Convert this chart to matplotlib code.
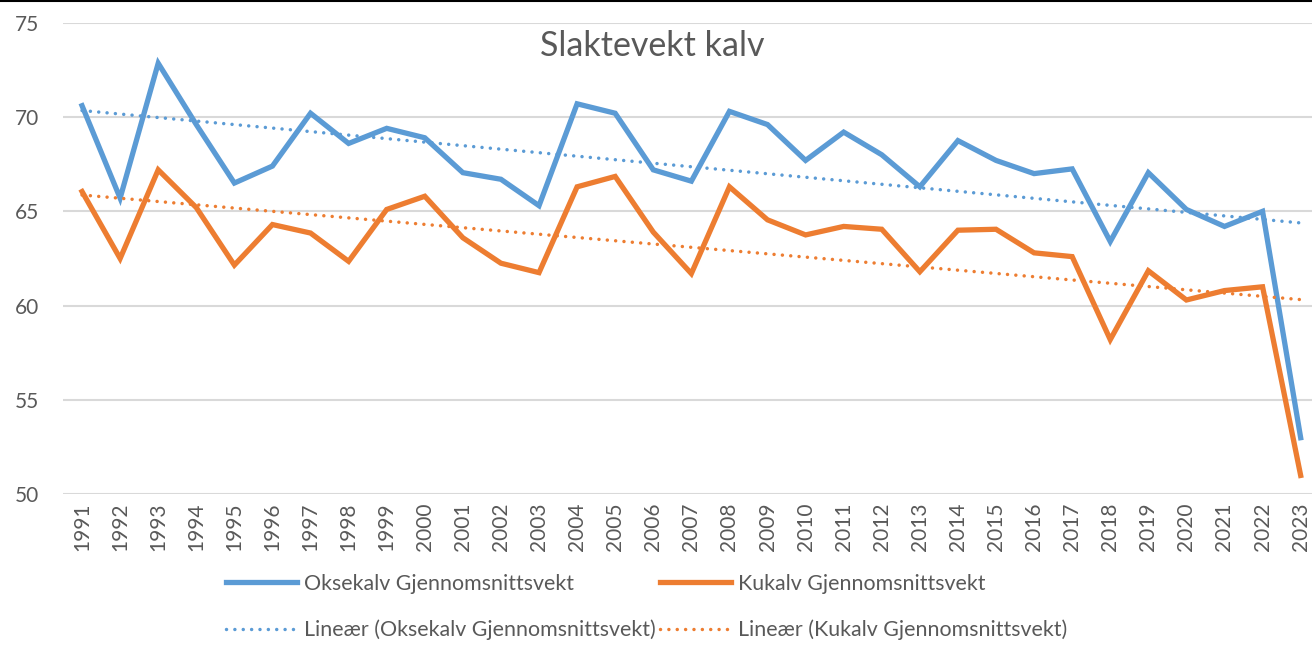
import numpy as np
import matplotlib.pyplot as plt
from matplotlib.lines import Line2D

# Slaktevekt kalv, gjennomsnitt per år [kg]
years = list(range(1991, 2024))
okse = [70.6, 65.7, 72.85, 69.6, 66.5, 67.4, 70.2, 68.6, 69.4, 68.9,
        67.05, 66.7, 65.3, 70.7, 70.2, 67.2, 66.6, 70.3, 69.6, 67.7,
        69.2, 68.0, 66.3, 68.75, 67.7, 67.0, 67.25, 63.4, 67.05, 65.1,
        64.2, 65.0, 53.0]
ku = [66.05, 62.5, 67.2, 65.2, 62.15, 64.3, 63.85, 62.35, 65.1, 65.8,
      63.6, 62.25, 61.75, 66.3, 66.85, 63.9, 61.7, 66.3, 64.55, 63.75,
      64.2, 64.05, 61.8, 64.0, 64.05, 62.8, 62.6, 58.2, 61.85, 60.3,
      60.8, 61.0, 51.0]
labels = ["Oksekalv Gjennomsnittsvekt", "Kukalv Gjennomsnittsvekt",
          "Lineær (Oksekalv Gjennomsnittsvekt)", "Lineær (Kukalv Gjennomsnittsvekt)"]

blue = "#5B9BD5"
orange = "#ED7D31"
grey = "#595959"

plt.rcParams['font.family'] = ['Lato', 'DejaVu Sans']

fig = plt.figure(figsize=(13.12, 6.70), dpi=100)
ax = fig.add_axes([63/1312, 1-494.3/670, (1319.7-63)/1312, (494.3-22.7)/670])

x = np.array(years)
# Excel-style linear trend lines
pO = np.polyfit(x, okse, 1)
pK = np.polyfit(x, ku, 1)

dots = dict(lw=2.5, linestyle=(0, (0.01, 2.4)), dash_capstyle='round')
l1, = ax.plot(x, okse, color=blue, lw=3.8, solid_joinstyle='miter', zorder=3)
l2, = ax.plot(x, ku, color=orange, lw=3.8, solid_joinstyle='miter', zorder=3)
t1, = ax.plot(x, np.polyval(pO, x), color=blue, zorder=4, **dots)
t2, = ax.plot(x, np.polyval(pK, x), color=orange, zorder=4, **dots)

ax.set_xlim(1990.5, 2023.5)
ax.set_ylim(50, 75)
ax.set_yticks([50, 55, 60, 65, 70, 75])
ax.set_xticks(years)
ax.set_xticklabels([str(y) for y in years], rotation=90)
ax.grid(axis='y', color='#D9D9D9', lw=1.5)
ax.set_axisbelow(True)
for s in ax.spines.values():
    s.set_visible(False)
ax.tick_params(axis='both', length=0, colors=grey, labelsize=15)
ax.tick_params(axis='y', pad=17)
ax.tick_params(axis='x', pad=6)

fig.text(0.497, 0.932, "Slaktevekt kalv", ha='center', va='center', fontsize=24.5, color=grey)

fig.legend([l1, t1, l2, t2], [labels[0], labels[2], labels[1], labels[3]],
           ncol=2, loc='center', bbox_to_anchor=(0.493, 0.094), frameon=False,
           fontsize=15.4, labelcolor=grey, handlelength=3.3, handletextpad=0.35,
           columnspacing=0.2, labelspacing=1.2)

fig.add_artist(Line2D([0, 1], [0.999, 0.999], color='black', lw=1.5))

fig.savefig("out.png", dpi=100)
